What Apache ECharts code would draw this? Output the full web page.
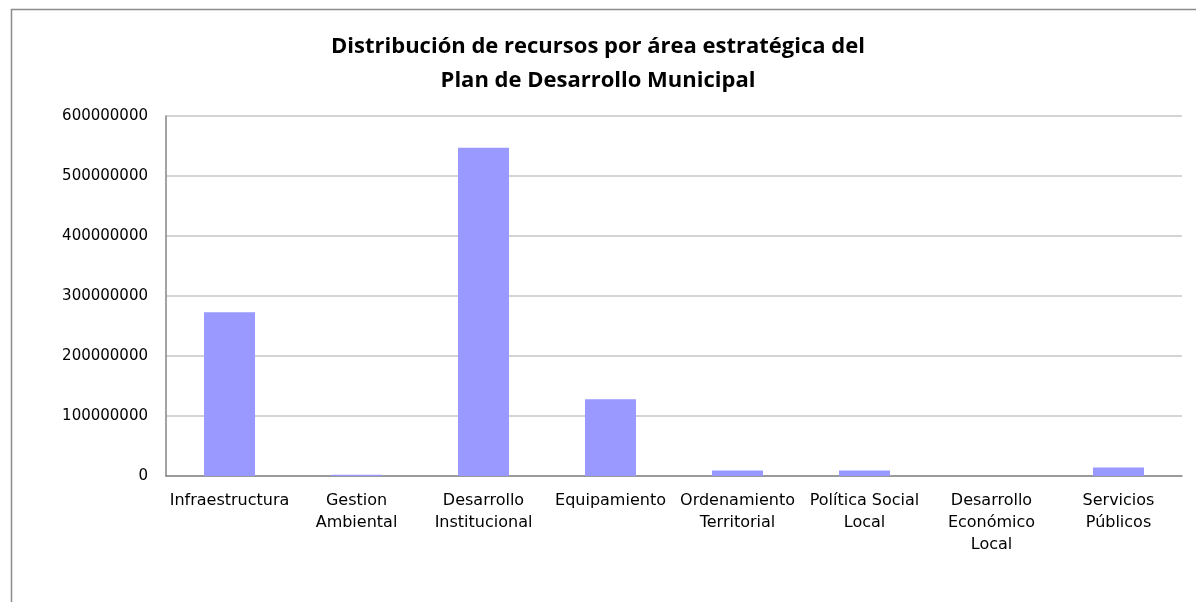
<!DOCTYPE html>
<html lang="es">
<head>
    <meta charset="utf-8">
    <title>Distribución de recursos</title>
    <script src="https://cdn.jsdelivr.net/npm/echarts@6/dist/echarts.min.js"></script>
    <style>
        body { margin: 0; background: #fff; }
        #chart { width: 1196px; height: 602px; }
    </style>
</head>
<body>
<div id="chart"></div>
<script type="text/javascript">
    // categorías (eje x)
    var areas = ['Infraestructura', 'Gestion\nAmbiental', 'Desarrollo\nInstitucional', 'Equipamiento',
        'Ordenamiento\nTerritorial', 'Política Social\nLocal', 'Desarrollo\nEconómico\nLocal', 'Servicios\nPúblicos'];
    // recursos asignados (estimados de la imagen)
    var recursos = [273000000, 2000000, 547000000, 128000000, 9000000, 9000000, 0, 14000000];

    var myChart = echarts.init(document.getElementById('chart'));

    var option = {
        animation: false,
        title: {
            text: 'Distribución de recursos por área estratégica del\nPlan de Desarrollo Municipal',
            left: 'center',
            top: 25,
            textStyle: {
                fontFamily: 'Open Sans',
                fontSize: 22,
                fontWeight: 'bold',
                color: '#000',
                lineHeight: 34
            }
        },
        graphic: [{
            type: 'rect',
            shape: {x: 11.5, y: 9.5, width: 1400, height: 800},
            style: {fill: 'none', stroke: '#8c8c8c', lineWidth: 1.5},
            silent: true
        }],
        grid: {
            left: 166,
            top: 116,
            right: 14,
            bottom: 126
        },
        xAxis: {
            type: 'category',
            data: areas,
            axisLine: {lineStyle: {color: '#868686', width: 1.5}},
            axisTick: {show: false},
            axisLabel: {
                interval: 0,
                margin: 14,
                color: '#000',
                fontFamily: 'DejaVu Sans',
                fontSize: 16,
                lineHeight: 22
            }
        },
        yAxis: {
            type: 'value',
            min: 0,
            max: 600000000,
            interval: 100000000,
            axisLine: {show: true, lineStyle: {color: '#868686', width: 1.5}},
            axisTick: {show: false},
            splitLine: {lineStyle: {color: '#c6c6c6', width: 1.5}},
            axisLabel: {
                margin: 18,
                color: '#000',
                fontFamily: 'DejaVu Sans',
                fontSize: 15,
                formatter: function (v) { return String(v); }
            }
        },
        series: [{
            type: 'bar',
            data: recursos,
            barWidth: 51,
            itemStyle: {color: '#9999ff'}
        }]
    };

    myChart.setOption(option);
</script>
</body>
</html>
